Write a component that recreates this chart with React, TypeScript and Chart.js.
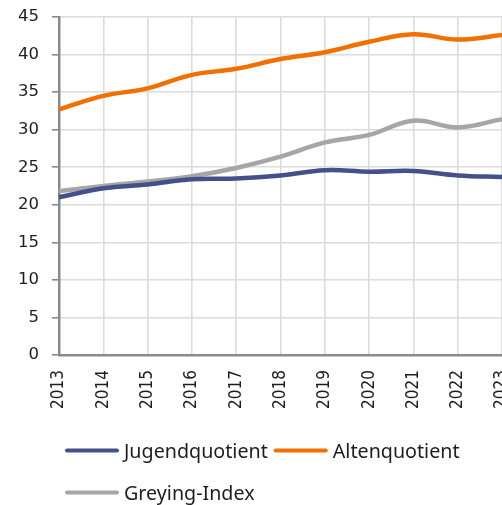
import React, { useEffect, useRef } from "react";
import { Chart, registerables } from "chart.js";

Chart.register(...registerables);

const years = ["2013", "2014", "2015", "2016", "2017", "2018", "2019", "2020", "2021", "2022", "2023"];
const jugendquotient = [21.0, 22.2, 22.7, 23.4, 23.5, 23.9, 24.6, 24.4, 24.5, 23.9, 23.7];
const altenquotient = [32.7, 34.5, 35.5, 37.3, 38.1, 39.4, 40.3, 41.7, 42.7, 42.0, 42.6];
const greyingIndex = [21.8, 22.5, 23.1, 23.8, 24.9, 26.4, 28.3, 29.3, 31.2, 30.3, 31.4];

const seriesNames = ["Jugendquotient", "Altenquotient", "Greying-Index"];
const seriesColors = ["#45508a", "#f07000", "#a6a6a6"];

const LEGEND_FONT = "'Noto Sans', sans-serif";
const Y_FONT = "'DejaVu Sans', sans-serif";
const X_FONT = "'Liberation Sans Narrow', 'DejaVu Sans Condensed', sans-serif";

const legendPlugin = {
  id: "customLegend",
  afterDraw(chart: any) {
    const ctx = chart.ctx;
    const ds = chart.data.datasets;
    ctx.save();
    ctx.font = `19.7px ${LEGEND_FONT}`;
    ctx.textBaseline = "alphabetic";
    ctx.textAlign = "left";
    const startX = 57;
    const maxRight = 470;
    const lineLen = 54;
    let x = startX;
    let y = 442.5;
    const rowGap = 42;
    ds.forEach((d: any) => {
      const tw = ctx.measureText(d.label).width;
      const itemW = lineLen + 5 + tw;
      if (x !== startX && x + itemW > maxRight) {
        x = startX;
        y += rowGap;
      }
      ctx.strokeStyle = d.borderColor;
      ctx.lineWidth = 4;
      ctx.lineCap = "round";
      ctx.beginPath();
      ctx.moveTo(x + 2, y);
      ctx.lineTo(x + lineLen - 2, y);
      ctx.stroke();
      ctx.fillStyle = "#1e1e1e";
      ctx.fillText(d.label, x + lineLen + 5, y + 7);
      x += itemW + 6;
    });
    ctx.restore();
  },
};

export default function App() {
  const ref = useRef<HTMLCanvasElement | null>(null);
  useEffect(() => {
    document.documentElement.style.overflow = "hidden";
    document.body.style.margin = "0";
    const canvas = ref.current!;
    const values = [jugendquotient, altenquotient, greyingIndex];
    const chart = new Chart(canvas, {
      type: "line",
      data: {
        labels: years,
        datasets: seriesNames.map((name, i) => ({
          label: name,
          data: values[i],
          borderColor: seriesColors[i],
          backgroundColor: seriesColors[i],
          borderWidth: 4.5,
          pointRadius: 0,
          tension: 0.4,
          fill: false,
        })),
      },
      options: {
        animation: false,
        responsive: false,
        maintainAspectRatio: false,
        layout: { padding: { top: 9, right: 66, left: 0, bottom: 0 } },
        plugins: { legend: { display: false }, tooltip: { enabled: false } },
        scales: {
          x: {
            offset: false,
            grid: {
              color: "#dcdcdc",
              lineWidth: 1.6,
              drawTicks: false,
            },
            border: { color: "#8a8a8a", width: 2.5 },
            ticks: {
              minRotation: 90,
              maxRotation: 90,
              padding: 15,
              color: "#1e1e1e",
              font: { family: X_FONT, size: 17 },
              autoSkip: false,
            },
            afterFit(scale: any) {
              scale.height = 150;
              scale.paddingLeft = 0;
              scale.paddingRight = 0;
            },
          },
          y: {
            min: 0,
            max: 45,
            ticks: {
              stepSize: 5,
              padding: 13,
              color: "#1e1e1e",
              font: { family: Y_FONT, size: 16.5 },
            },
            grid: {
              color: "#dcdcdc",
              lineWidth: 1.6,
              tickLength: 7,
              tickColor: "#8a8a8a",
            },
            border: { color: "#8a8a8a", width: 2.5 },
            afterFit(scale: any) {
              scale.width = 51;
              scale.paddingTop = 0;
              scale.paddingBottom = 0;
            },
          },
        },
      },
      plugins: [legendPlugin],
    });
    return () => chart.destroy();
  }, []);
  return (
    <div style={{ width: 502, height: 505, overflow: "hidden", position: "relative", background: "#ffffff" }}>
      <div style={{ position: "absolute", left: 8, top: 8, width: 494, height: 497, overflow: "hidden" }}>
        <canvas ref={ref} width={560} height={497} style={{ display: "block", width: 560, height: 497 }} />
      </div>
    </div>
  );
}
